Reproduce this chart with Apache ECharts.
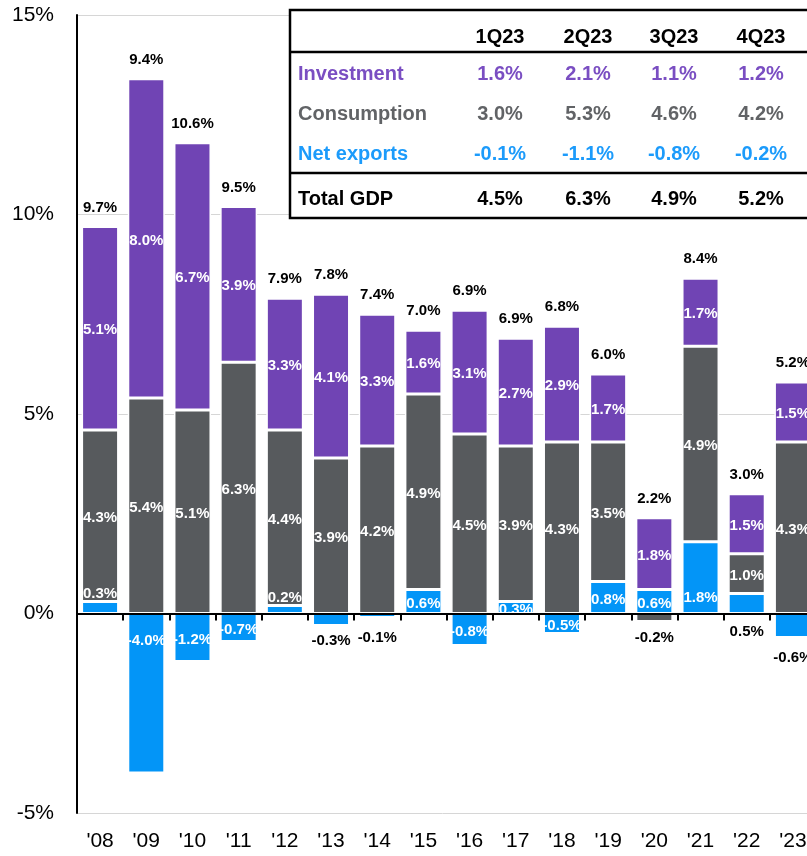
<!DOCTYPE html>
<html>
<head>
<meta charset="utf-8">
<script src="https://cdn.jsdelivr.net/npm/echarts@6/dist/echarts.min.js"></script>
<style>
  html, body { margin: 0; padding: 0; background: #fff; }
  #chart { width: 807px; height: 856px; }
</style>
</head>
<body>
<div id="chart"></div>
<script>
// Contributions to real GDP growth by component, percentage points
const years = ["'08", "'09", "'10", "'11", "'12", "'13", "'14", "'15", "'16", "'17", "'18", "'19", "'20", "'21", "'22", "'23"];
const netExports = [0.3, -4.0, -1.2, -0.7, 0.2, -0.3, -0.1, 0.6, -0.8, 0.3, -0.5, 0.8, 0.6, 1.8, 0.5, -0.6];
const consumption = [4.3, 5.4, 5.1, 6.3, 4.4, 3.9, 4.2, 4.9, 4.5, 3.9, 4.3, 3.5, -0.2, 4.9, 1.0, 4.3];
const investment = [5.1, 8.0, 6.7, 3.9, 3.3, 4.1, 3.3, 1.6, 3.1, 2.7, 2.9, 1.7, 1.8, 1.7, 1.5, 1.5];
const totalGdp = [9.7, 9.4, 10.6, 9.5, 7.9, 7.8, 7.4, 7.0, 6.9, 6.9, 6.8, 6.0, 2.2, 8.4, 3.0, 5.2];
const yTicks = [-5, 0, 5, 10, 15];

// Quarterly table
const quarters = ['1Q23', '2Q23', '3Q23', '4Q23'];
const qInvestment = [1.6, 2.1, 1.1, 1.2];
const qConsumption = [3.0, 5.3, 4.6, 4.2];
const qNetExports = [-0.1, -1.1, -0.8, -0.2];
const qTotal = [4.5, 6.3, 4.9, 5.2];

const FONT = "'Liberation Sans', Arial, Helvetica, sans-serif";
const PURPLE = '#7044b4';
const GRAY = '#575a5d';
const BLUE = '#0395f7';
const pct = v => v.toFixed(1) + '%';

// Label placement overrides for segments that sit outside or at an edge
const netLabelStyle = {
  0: { position: 'top', distance: 0, offset: [0, 0] },
  1: { position: 'insideTop', distance: 20, offset: [0, 0] },
  4: { position: 'top', distance: 0, offset: [0, 0] },
  5: { position: 'bottom', distance: 8, color: '#000', offset: [0, 0] },
  6: { position: 'bottom', distance: 13, color: '#000', offset: [0, 0] },
  13: { position: 'insideBottom', distance: 8, offset: [0, 0] },
  14: { position: 'bottom', distance: 11, color: '#000', offset: [0, 0] },
  15: { position: 'bottom', distance: 13, color: '#000', offset: [0, 0] }
};
const consLabelStyle = {
  12: { position: 'bottom', distance: 9, color: '#000', offset: [0, 0] }
};

function withLabels(values, overrides) {
  return values.map((v, i) => overrides[i] ? { value: v, label: overrides[i] } : v);
}

const baseLabel = {
  show: true,
  position: 'inside',
  color: '#fff',
  fontFamily: FONT,
  fontWeight: 'bold',
  fontSize: 15,
  offset: [0, 2],
  formatter: p => pct(p.value)
};

function barSeries(name, values, color, overrides) {
  return {
    name: name,
    type: 'bar',
    stack: 'gdp',
    barWidth: 37,
    xAxisIndex: 0,
    yAxisIndex: 0,
    itemStyle: { color: color, borderColor: '#fff', borderWidth: 1.5 },
    label: baseLabel,
    data: withLabels(values, overrides)
  };
}

// Top of the positive stack for each year, used to place the total label
const stackTop = years.map((_, i) =>
  [netExports[i], consumption[i], investment[i]].reduce((s, v) => s + (v > 0 ? v : 0), 0)
);

const graphicEls = [];
const tblLeft = 290, tblTop = 10, tblBottom = 218;
graphicEls.push({
  type: 'rect', z: 100,
  shape: { x: tblLeft, y: tblTop, width: 540, height: tblBottom - tblTop },
  style: { fill: '#fff', stroke: '#000', lineWidth: 2.5 }
});
[52, 173].forEach(y => graphicEls.push({
  type: 'line', z: 101,
  shape: { x1: tblLeft, y1: y, x2: 830, y2: y },
  style: { stroke: '#000', lineWidth: 2.5 }
}));
const colX = [500, 588, 674, 761];
function tText(x, y, text, fill, align) {
  return {
    type: 'text', z: 102, x: x, y: y,
    style: {
      text: text, fill: fill, font: 'bold 20px ' + FONT,
      align: align, verticalAlign: 'middle',
      textAlign: align, textVerticalAlign: 'middle'
    }
  };
}
const rows = [
  { label: 'Investment', vals: qInvestment, color: '#7a4ec2', y: 74 },
  { label: 'Consumption', vals: qConsumption, color: '#616366', y: 114 },
  { label: 'Net exports', vals: qNetExports, color: '#1c9bfb', y: 154 },
  { label: 'Total GDP', vals: qTotal, color: '#000', y: 199 }
];
quarters.forEach((q, j) => graphicEls.push(tText(colX[j], 37, q, '#000', 'center')));
rows.forEach(r => {
  graphicEls.push(tText(298, r.y, r.label, r.color, 'left'));
  r.vals.forEach((v, j) => graphicEls.push(tText(colX[j], r.y, pct(v), r.color, 'center')));
});

const option = {
  animation: false,
  backgroundColor: '#fff',
  grid: { left: 77, right: -9, top: 15, bottom: 43, containLabel: false, outerBoundsMode: 'none' },
  xAxis: [
    {
      type: 'category',
      data: years,
      position: 'bottom',
      axisLine: { show: true, onZero: true, lineStyle: { color: '#000', width: 2 } },
      axisTick: { show: true, length: 7, interval: 0, lineStyle: { color: '#000', width: 2 } },
      axisLabel: { show: false },
      splitLine: { show: false },
      z: 5
    },
    {
      type: 'category',
      data: years,
      position: 'bottom',
      axisLine: { show: false, onZero: false },
      axisTick: { show: false },
      axisLabel: {
        show: true, interval: 0, margin: 18,
        color: '#000', fontFamily: FONT, fontSize: 21
      },
      splitLine: { show: false }
    }
  ],
  yAxis: {
    type: 'value',
    min: yTicks[0],
    max: yTicks[yTicks.length - 1],
    interval: 5,
    axisLine: { show: true, lineStyle: { color: '#000', width: 2 } },
    axisTick: { show: false },
    axisLabel: {
      margin: 23, color: '#000', fontFamily: FONT, fontSize: 21,
      formatter: v => v + '%'
    },
    splitLine: { show: true, lineStyle: { color: '#d6d6d6', width: 1 } }
  },
  series: [
    barSeries('Net exports', netExports, BLUE, netLabelStyle),
    barSeries('Consumption', consumption, GRAY, consLabelStyle),
    barSeries('Investment', investment, PURPLE, {}),
    {
      name: 'Total GDP',
      type: 'custom',
      xAxisIndex: 0,
      yAxisIndex: 0,
      z: 10,
      encode: { x: 0, y: 1 },
      data: years.map((_, i) => [i, stackTop[i], totalGdp[i]]),
      renderItem: (params, api) => {
        const p = api.coord([api.value(0), api.value(1)]);
        return {
          type: 'text',
          x: p[0],
          y: p[1] - 19,
          style: {
            text: pct(api.value(2)),
            fill: '#000',
            font: 'bold 15px ' + FONT,
            align: 'center', verticalAlign: 'middle',
            textAlign: 'center', textVerticalAlign: 'middle'
          }
        };
      }
    }
  ],
  graphic: graphicEls
};

const chart = echarts.init(document.getElementById('chart'), null, { renderer: 'canvas' });
chart.setOption(option);
</script>
</body>
</html>
